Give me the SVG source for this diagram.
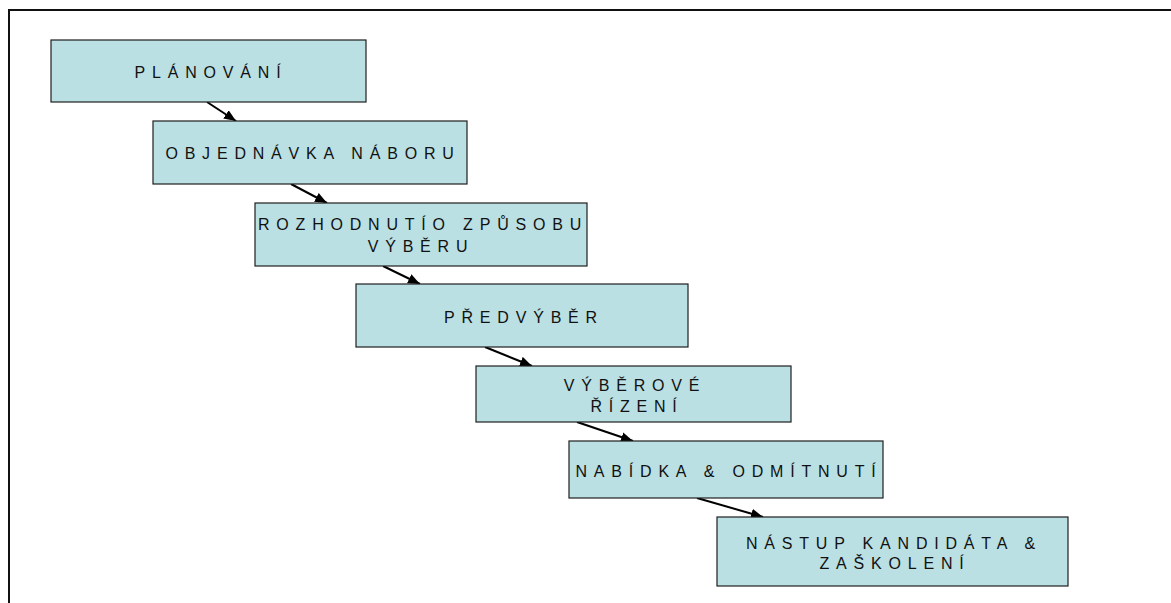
<svg xmlns="http://www.w3.org/2000/svg" width="1171" height="603" viewBox="0 0 1171 603">
<style>
.box{fill:#BAE0E3;stroke:#1e1e1e;stroke-width:1.2}
.t{font-family:"Liberation Sans",Arial,sans-serif;font-size:16px;letter-spacing:6.8px;fill:#111;text-anchor:middle}
.c{stroke:#000;stroke-width:2;fill:none;marker-end:url(#ah)}
</style>
<defs>
<marker id="ah" markerUnits="userSpaceOnUse" markerWidth="13" markerHeight="11" refX="12" refY="5" orient="auto">
<path d="M0,0 L12,5 L0,10 z" fill="#000"/>
</marker>
</defs>
<rect width="1171" height="603" fill="#fff"/>
<path d="M9,603 V10 H1171" fill="none" stroke="#111" stroke-width="2"/>
<g id="connectors">
<line class="c" x1="207" y1="102" x2="236" y2="121"/>
<line class="c" x1="291" y1="184" x2="327" y2="203"/>
<line class="c" x1="383" y1="266" x2="420" y2="284"/>
<line class="c" x1="485" y1="347" x2="532" y2="366"/>
<line class="c" x1="577" y1="422" x2="633" y2="441"/>
<line class="c" x1="697" y1="498" x2="763" y2="517"/>
</g>
<g id="n1"><rect class="box" x="51" y="40" width="315" height="62"/><text class="t" x="211" y="78">PLÁNOVÁNÍ</text></g>
<g id="n2"><rect class="box" x="153" y="121" width="314" height="63"/><text class="t" x="313" y="159">OBJEDNÁVKA NÁBORU</text></g>
<g id="n3"><rect class="box" x="255" y="203" width="332" height="63"/><text class="t" x="423" y="230">ROZHODNUTÍO ZPŮSOBU</text><text class="t" x="421" y="251.5">VÝBĚRU</text></g>
<g id="n4"><rect class="box" x="356" y="284" width="332" height="63"/><text class="t" x="524" y="323">PŘEDVÝBĚR</text></g>
<g id="n5"><rect class="box" x="476" y="366" width="315" height="56"/><text class="t" x="635" y="391">VÝBĚROVÉ</text><text class="t" x="637" y="411.5">ŘÍZENÍ</text></g>
<g id="n6"><rect class="box" x="569" y="441" width="314" height="57"/><text class="t" x="729" y="476.5">NABÍDKA &amp; ODMÍTNUTÍ</text></g>
<g id="n7"><rect class="box" x="717" y="517" width="351" height="69"/><text class="t" x="894" y="548.5">NÁSTUP KANDIDÁTA &amp;</text><text class="t" x="895" y="568.5">ZAŠKOLENÍ</text></g>
</svg>
